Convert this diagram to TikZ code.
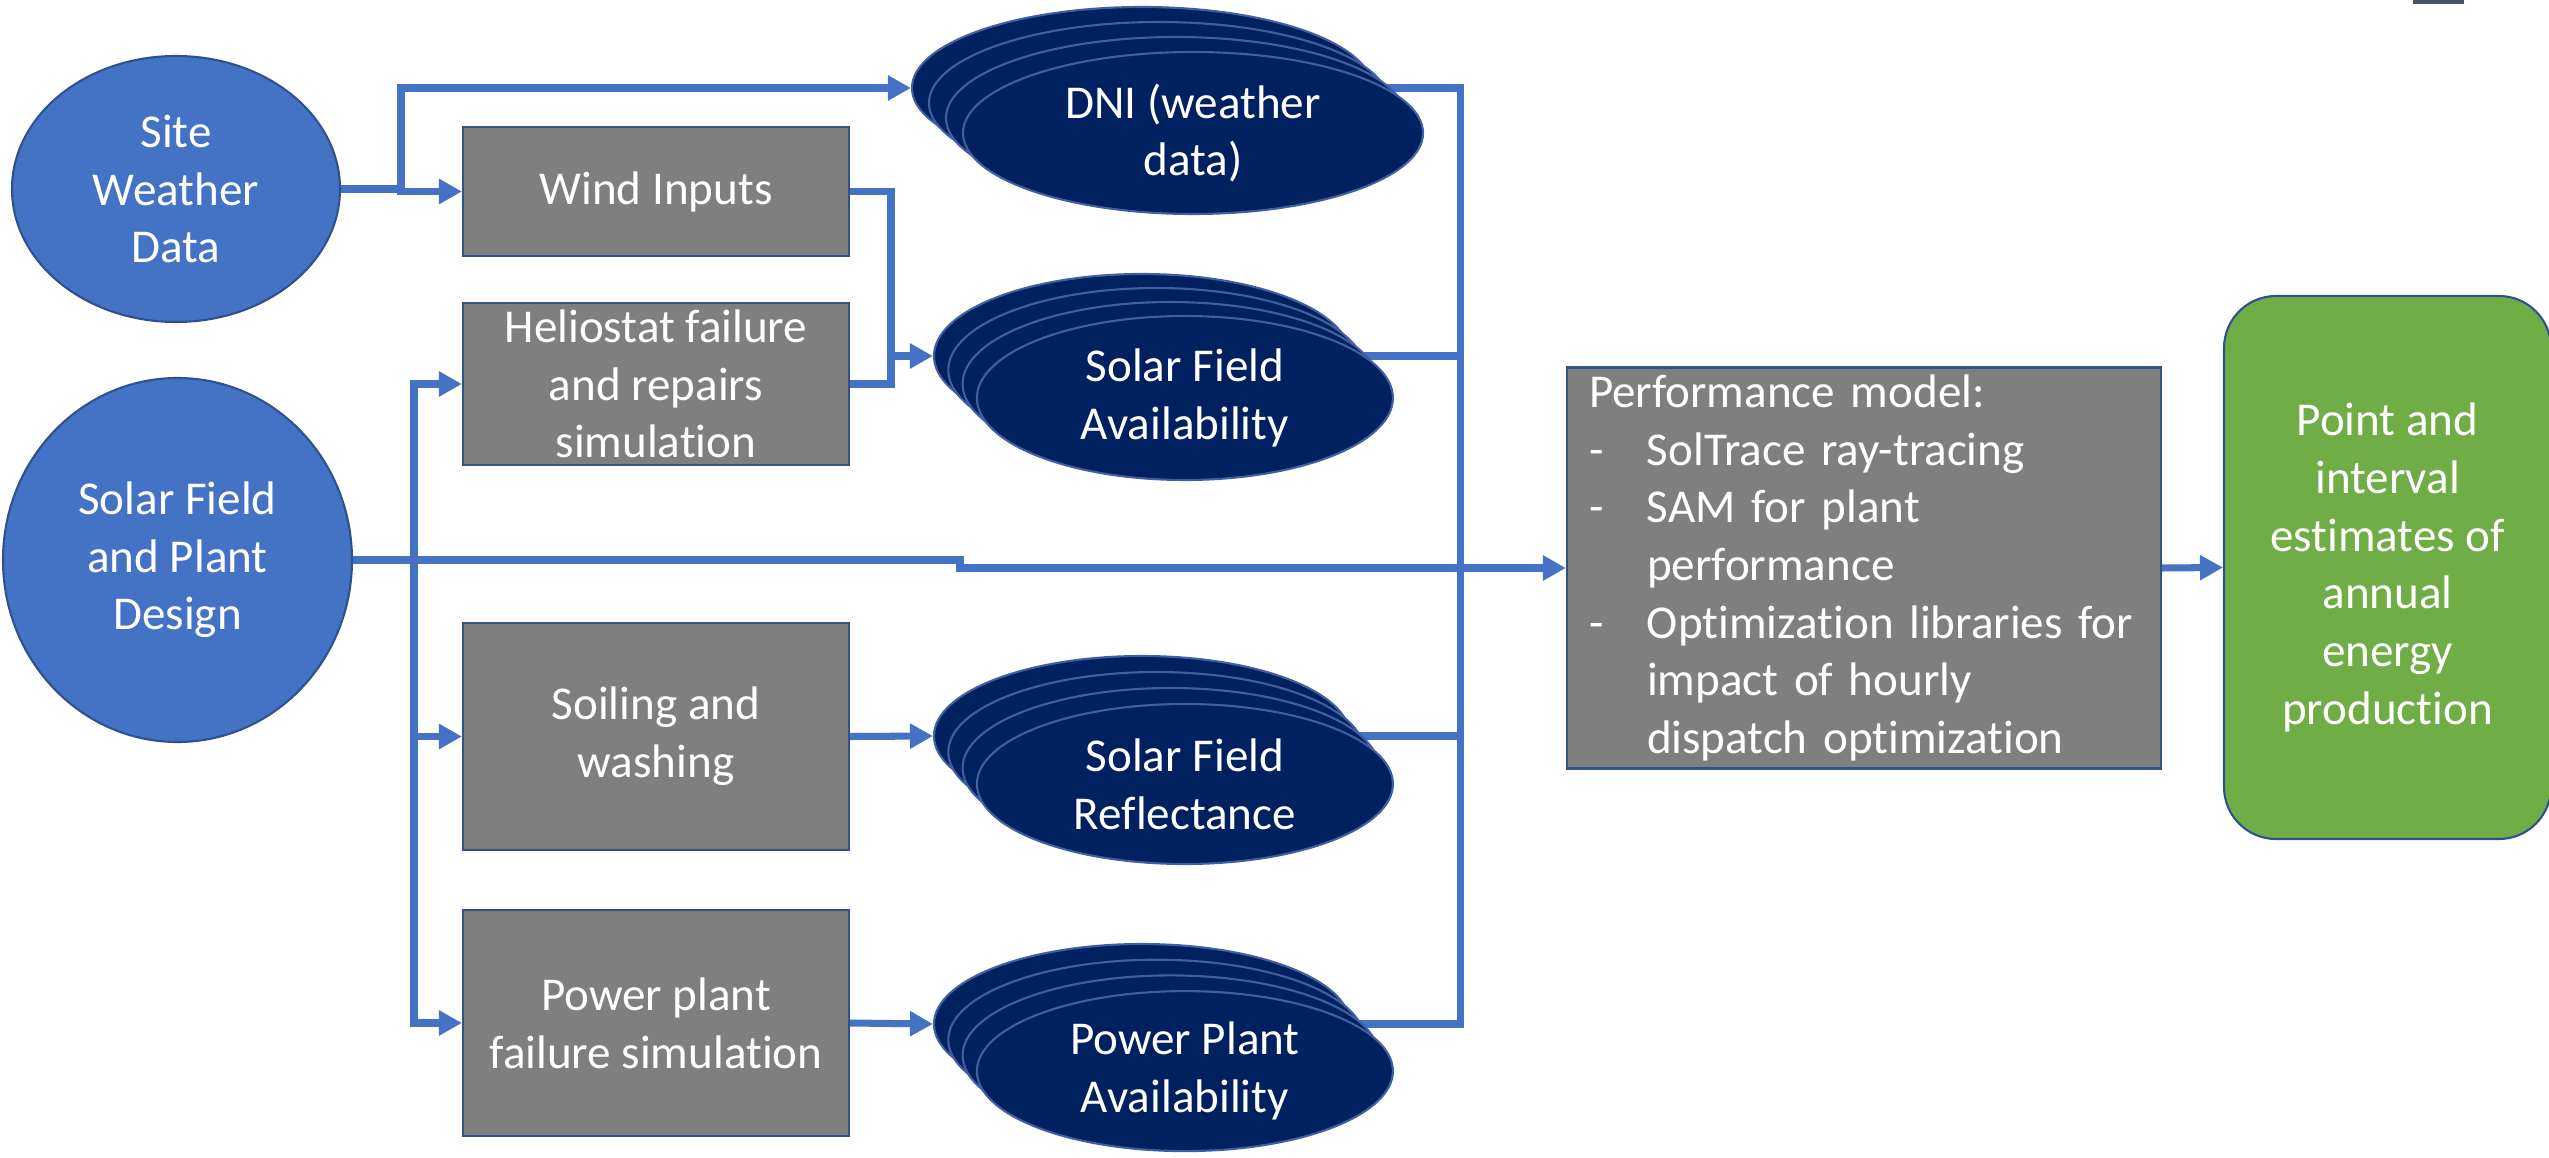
\documentclass[tikz,border=0pt]{standalone}
\usepackage{fontspec}
\setmainfont{Carlito}[RawFeature={-liga;-calt;-dlig}]
\usetikzlibrary{shapes.geometric,arrows.meta,calc,backgrounds}

\definecolor{linkblue}{RGB}{68,114,196}
\definecolor{rimblue}{RGB}{47,82,143}
\definecolor{navy}{RGB}{0,32,96}
\definecolor{navyrim}{RGB}{65,95,160}
\definecolor{boxgrey}{RGB}{127,127,127}
\definecolor{resgreen}{RGB}{112,173,71}
\definecolor{slate}{RGB}{68,84,106}

\tikzset{
  txt/.style={text=white, font=\fontsize{13.4}{16.4}\selectfont, align=center},
  source/.style={txt, ellipse, fill=linkblue, draw=rimblue, line width=0.6pt, inner sep=0pt},
  process/.style={txt, rectangle, fill=boxgrey, draw=rimblue, line width=0.6pt,
    minimum width=3.86cm, inner sep=0pt},
  layer/.style={txt, ellipse, fill=navy, draw=navyrim, line width=0.6pt, inner sep=0pt},
  result/.style={txt, rectangle, rounded corners=0.52cm, fill=resgreen, draw=rimblue,
    line width=0.6pt, inner sep=0pt},
  link/.style={draw=linkblue, line width=2pt},
  flow/.style={link, -{Triangle[length=0.23cm,width=0.24cm]}},
}

% four ellipses behind one another: name, centre of the back one, width, height, shift, label
\newcommand{\ellstack}[6]{%
  \foreach \k in {0,1,2}
    \node[layer, minimum width=#3, minimum height=#4] (#1\k) at ($#2+\k*#5$) {};
  \node[layer, minimum width=#3, minimum height=#4] (#1) at ($#2+3*#5$) {#6};
}

\begin{document}
\begin{tikzpicture}
\useasboundingbox (0,0) rectangle (25.49,-11.58);

% inputs
\node[source, minimum width=3.28cm, minimum height=2.66cm] (site) at (1.76,-1.89) {Site\\Weather\\Data};
\node[source, minimum width=3.49cm, minimum height=3.64cm] (sfpd) at (1.775,-5.60) {Solar Field\\and Plant\\Design};

% simulation steps
\node[process, minimum height=1.29cm] (wind) at (6.56,-1.915) {Wind Inputs};
\node[process, minimum height=1.62cm] (helio) at (6.56,-3.84) {Heliostat failure\\and repairs\\simulation};
\node[process, minimum height=2.27cm] (soil) at (6.56,-7.365) {Soiling and\\washing};
\node[process, minimum height=2.26cm] (pplant) at (6.56,-10.23) {Power plant\\failure simulation};

% time series
\ellstack{dni}{(11.42,-0.88)}{4.6cm}{1.62cm}{(0.17,-0.15)}{DNI (weather\\data)}
\ellstack{sfa}{(11.42,-3.56)}{4.16cm}{1.64cm}{(0.143,-0.14)}{Solar Field\\Availability}
\ellstack{sfr}{(11.42,-7.36)}{4.16cm}{1.60cm}{(0.143,-0.16)}{Solar Field\\Reflectance}
\ellstack{ppa}{(11.42,-10.24)}{4.16cm}{1.60cm}{(0.143,-0.157)}{Power Plant\\Availability}

% model and output
\node[process, minimum width=5.94cm, minimum height=4.01cm, text width=5.50cm, align=left] (perf) at (18.64,-5.68)
  {Performance model:\\
   \makebox[0.58cm][l]{-}SolTrace ray-tracing\\
   \makebox[0.58cm][l]{-}SAM for plant\\
   \makebox[0.58cm]{}performance\\
   \makebox[0.58cm][l]{-}Optimization libraries for\\
   \makebox[0.58cm]{}impact of hourly\\
   \makebox[0.58cm]{}dispatch optimization};
\node[result, minimum width=3.27cm, minimum height=5.43cm] (est) at (23.875,-5.675)
  {Point and\\interval\\estimates of\\annual\\energy\\production};

\fill[slate] (24.13,0) rectangle (24.64,-0.04);

% connectors
\begin{scope}[on background layer]
  \coordinate (sj) at (4.01,-1.89);
  \draw[flow] (site.east) -- (sj) |- (dni0.west);
  \draw[flow] (sj) |- (wind.west);

  \coordinate (wj) at (8.91,-3.56);
  \draw[link] (wind.east) -| (wj) |- (helio.east);
  \draw[flow] (wj) -- (sfa0.west);

  \coordinate (bus) at (4.14,-5.60);
  \draw[flow] (bus) |- (helio.west);
  \draw[flow] (bus) |- (soil.west);
  \draw[flow] (bus) |- (pplant.west);

  \coordinate (sj2) at (9.60,-5.64);
  \draw[flow] (sfpd.east) -| (sj2) |- (perf.west);

  \draw[flow] (soil.east) -- (sfr0.west);
  \draw[flow] (pplant.east) -- (ppa0.west);

  \coordinate (rb) at (14.60,0);
  \draw[link] (dni0.east) -| (rb |- ppa0.east) -- (ppa0.east);
  \draw[link] (sfa0.east) -- (sfa0.east -| rb);
  \draw[link] (sfr0.east) -- (sfr0.east -| rb);

  \draw[flow] (perf.east) -- (est.west);
\end{scope}
\end{tikzpicture}
\end{document}
